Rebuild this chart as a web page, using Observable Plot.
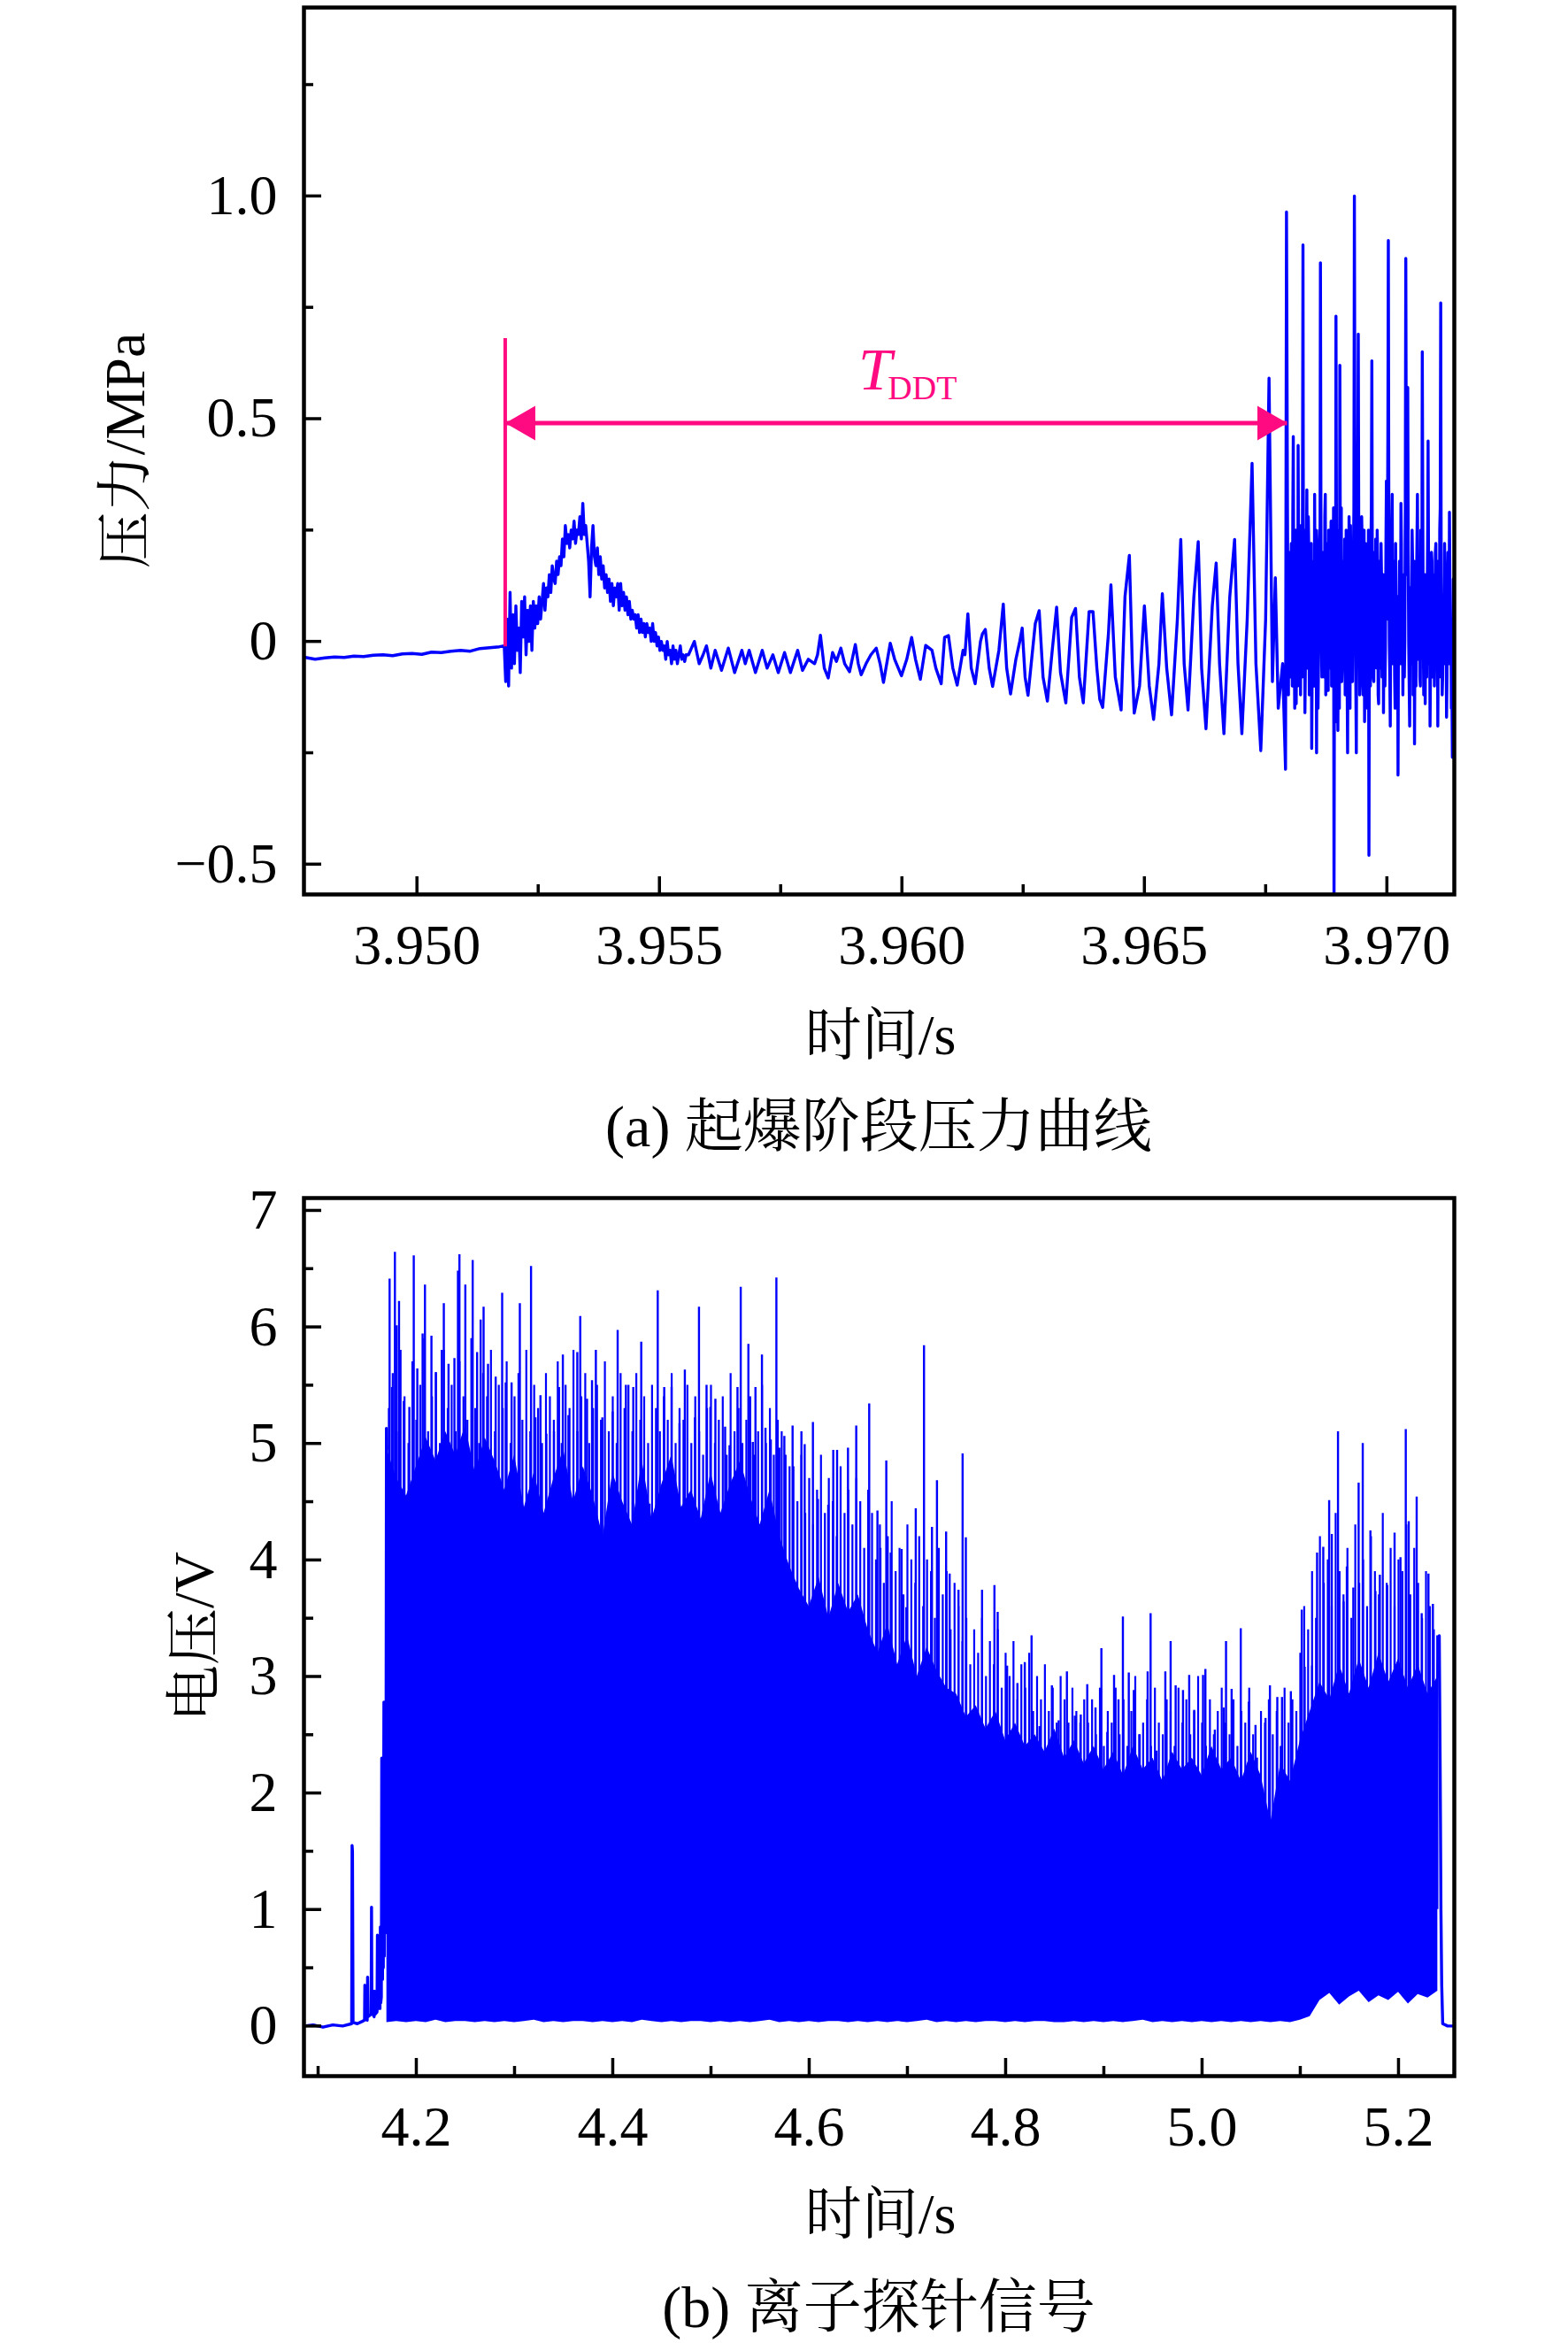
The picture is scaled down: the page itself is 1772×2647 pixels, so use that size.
<!DOCTYPE html>
<html><head><meta charset="utf-8">
<script src="https://cdn.jsdelivr.net/npm/d3@7"></script>
<script src="https://cdn.jsdelivr.net/npm/@observablehq/plot@0.6"></script>
<style>
html,body{margin:0;padding:0;background:#fff;}
#page{position:relative;width:1772px;height:2647px;overflow:hidden;background:#fff;color:#000;
  font-family:'Liberation Serif','Times New Roman','Noto Serif CJK SC','Noto Sans CJK SC',serif;}
.lbl{position:absolute;transform:translate(-50%,-50%);white-space:nowrap;font-size:64px;line-height:1;}
.rot{transform:translate(-50%,-50%) rotate(-90deg);}
#c1{position:absolute;left:0;top:0;}
#c2{position:absolute;left:0;top:1300px;}
</style></head><body><div id="page">
<div id="c1"></div><div id="c2"></div>
<div class="lbl rot" style="left:142px;top:509px">压力/MPa</div>
<div class="lbl" style="left:995px;top:1170px">时间/s</div>
<div class="lbl" style="left:993px;top:1273px;font-size:66px">(a) 起爆阶段压力曲线</div>
<div class="lbl rot" style="left:220px;top:1849px">电压/V</div>
<div class="lbl" style="left:995px;top:2502px">时间/s</div>
<div class="lbl" style="left:993px;top:2607px;font-size:66px">(b) 离子探针信号</div>
</div>
<script>
// ---------- (a) pressure data ----------
const flatT0 = 3.9477, flatDt = 0.0002;
const flatV = [-0.036,-0.040,-0.037,-0.035,-0.036,-0.033,-0.034,-0.031,-0.030,-0.032,-0.028,-0.027,-0.029,-0.024,-0.025,-0.022,-0.020,-0.022,-0.016,-0.014,-0.012];
const humpT0 = 3.95180, humpDt = 0.00003;
const humpV = [-0.01,-0.09,0.05,-0.10,0.11,-0.06,0.06,-0.05,0.08,-0.02,
 0.03,-0.07,0.09,0.01,0.10,-0.03,0.07,0.00,0.08,-0.02,
 0.09,0.03,0.08,0.04,0.10,0.05,0.09,0.13,0.07,0.12,
 0.10,0.15,0.11,0.17,0.14,0.13,0.18,0.15,0.19,0.17,
 0.23,0.19,0.26,0.22,0.24,0.21,0.25,0.23,0.27,0.22,
 0.25,0.24,0.28,0.23,0.31,0.24,0.26,0.22,0.18,0.10,
 0.21,0.26,0.19,0.17,0.21,0.15,0.19,0.14,0.17,0.12,
 0.15,0.11,0.14,0.09,0.13,0.08,0.12,0.10,0.13,0.07,
 0.13,0.08,0.11,0.07,0.10,0.06,0.09,0.05,0.07,0.05,
 0.06,0.03,0.06,0.02,0.05,0.02,0.04,0.01,0.04,0.02,
 0.03,0.00,0.04,0.00,0.02,-0.01,0.01,-0.02,0.00,-0.02,
 -0.01,-0.04,0.00,-0.03,-0.02,-0.05,-0.01,-0.04,-0.02,-0.05,
 -0.03,-0.01,-0.04,-0.03,-0.045,-0.03];
const oscT = [3.95560,3.95572,3.95582,3.95590,3.95597,3.95606,3.95615,3.95628,3.95642,3.95655,
 3.95670,3.95677,3.95685,3.95698,3.95712,3.95722,3.95734,3.95745,3.95758,3.95770,
 3.95785,3.95795,3.95807,3.95820,3.95826,3.95832,3.95840,3.95848,3.95857,3.95865,
 3.95874,3.95882,3.95892,3.95904,3.95910,3.95916,3.95926,3.95936,3.95947,3.95955,
 3.95962,3.95976,3.95985,3.95999,3.96010,3.96020,3.96028,3.96038,3.96049,3.96062,
 3.96070,3.96081,3.96088,3.96096,3.96105,3.96114,3.96126,3.96130,3.96136,3.96143,
 3.96151,3.96162,3.96166,3.96172,3.96180,3.96187,3.96200,3.96209,3.96216,3.96224,
 3.96235,3.96243,3.96248,3.96254,3.96260,3.96275,3.96283,3.96291,3.96300,3.96310,
 3.96319,3.96327,3.96338,3.96350,3.96358,3.96366,3.96374,3.96386,3.96394,3.96402,
 3.96408,3.96414,3.96426,3.96431,3.96440,3.96452,3.96460,3.96469,3.96475,3.96479,
 3.96490,3.96500,3.96510,3.96519,3.96530,3.96537,3.96546,3.96556,3.96568,3.96575,
 3.96582,3.96590,3.96602,3.96611,3.96618,3.96627,3.96640,3.96648,3.96655,3.96664,
 3.96676,3.96686,3.96693,3.96701,3.96712,3.96722,3.96730,3.96740,3.96750,3.96757,
 3.96764,3.96770,3.96776,3.96785,3.96791,3.96793];
const oscV = [-0.03,0.00,-0.05,-0.03,-0.01,-0.06,-0.02,-0.065,-0.015,-0.07,
 -0.02,-0.05,-0.02,-0.07,-0.02,-0.06,-0.03,-0.07,-0.025,-0.07,
 -0.02,-0.065,-0.04,-0.05,-0.03,0.014,-0.06,-0.082,-0.025,-0.045,
 -0.015,-0.05,-0.068,-0.007,-0.05,-0.075,-0.05,-0.03,-0.015,-0.05,
 -0.092,-0.004,-0.04,-0.077,-0.04,0.009,-0.04,-0.085,-0.009,-0.02,
 -0.06,-0.095,0.009,0.013,-0.06,-0.098,-0.02,-0.03,0.062,-0.06,
 -0.095,0.00,0.017,0.027,-0.06,-0.101,-0.02,0.084,-0.06,-0.118,
 -0.04,0.00,0.030,-0.08,-0.121,0.04,0.069,-0.08,-0.134,-0.02,
 0.077,-0.07,-0.138,0.054,0.074,-0.08,-0.138,0.067,0.067,-0.06,
 -0.13,-0.148,0.02,0.127,-0.08,-0.154,0.101,0.193,-0.05,-0.161,
 -0.10,0.08,-0.10,-0.175,-0.05,0.107,-0.06,-0.165,0.05,0.229,
 -0.05,-0.154,0.10,0.224,-0.06,-0.196,0.08,0.176,-0.05,-0.207,
 0.10,0.229,-0.05,-0.207,0.05,0.40,-0.05,-0.245,0.05,0.591,
 -0.09,0.143,-0.15,-0.05,-0.287,0.964];
const burstT0 = 3.96795, burstDt = 0.00002;
const burstV = [0.30,-0.12,0.12,-0.05,0.22,-0.10,0.46,-0.02,0.18,-0.14,
 0.10,0.44,-0.05,0.04,0.26,-0.08,0.89,0.10,-0.16,0.12,
 0.34,-0.06,0.20,-0.06,0.15,-0.24,0.02,0.18,0.33,-0.08,
 -0.25,0.10,-0.05,0.25,0.85,0.00,-0.04,0.20,-0.08,0.33,
 0.02,0.22,-0.11,0.12,-0.06,0.27,-0.05,0.08,-0.60,0.15,
 0.73,-0.05,-0.20,0.25,0.62,0.00,-0.09,0.12,-0.06,0.23,
 -0.10,0.15,-0.25,0.02,0.10,0.26,-0.08,-0.09,0.18,1.00,
 0.05,-0.25,0.05,0.69,0.10,-0.08,0.02,0.22,-0.12,0.25,
 0.00,-0.11,0.12,-0.05,-0.48,0.05,0.20,0.63,0.05,-0.09,
 0.08,0.23,-0.06,0.18,-0.14,0.05,-0.06,0.14,-0.04,-0.16,
 0.15,-0.02,0.36,0.20,0.90,0.00,-0.19,0.10,0.33,-0.05,
 0.15,-0.15,0.05,-0.10,-0.30,0.00,0.12,0.31,-0.04,-0.12,
 0.15,0.00,0.86,0.25,0.57,0.00,-0.19,0.02,0.10,0.18,
 -0.05,-0.23,0.05,0.12,0.33,-0.04,0.15,-0.10,0.20,0.65,
 0.02,-0.05,-0.14,0.15,0.08,0.45,-0.05,-0.19,0.05,0.18,
 -0.08,0.12,-0.02,0.22,-0.06,-0.19,0.15,0.25,0.76,0.02,
 -0.08,0.10,0.22,-0.05,-0.17,0.05,0.18,0.29,-0.02,-0.15,
 -0.26,0.14,-0.22,-0.25];
// half-step samples between the burstV samples
const burstMidV = [0.05,0.20,-0.08,0.15,0.02,0.28,0.10,-0.15,0.25,0.05,
 -0.10,0.20,0.15,-0.12,0.08,0.30,0.02,0.25,-0.05,0.18,
 0.05,0.28,-0.12,0.10,0.22,-0.05,0.15,-0.10,0.05,0.25,
 0.10,-0.15,0.22,0.05,0.30,-0.08,0.15,0.02,0.28,-0.12,
 0.18,-0.05,0.25,0.00,0.20,-0.10,0.15,0.30,0.05,-0.18,
 0.28,0.10,0.05,-0.15,0.20,0.30,-0.05,0.18,0.02,-0.12,
 0.25,-0.08,0.10,0.28,-0.15,0.05,0.22,0.10,0.30,0.45,
 -0.10,0.15,0.35,0.25,-0.12,0.20,0.28,-0.05,0.10,-0.18,
 0.22,0.05,-0.15,0.25,0.08,-0.10,0.30,0.15,-0.08,0.20,
 -0.05,0.10,0.25,-0.12,0.18,0.02,0.22,-0.08,0.15,0.05,
 -0.10,0.20,0.05,0.45,0.30,-0.08,0.15,0.25,-0.05,0.18,
 -0.08,0.22,-0.12,0.10,0.05,0.18,-0.05,0.22,0.10,0.05,
 -0.08,0.30,0.40,0.15,0.20,-0.10,0.12,-0.05,0.25,-0.12,
 0.18,0.05,-0.10,0.22,0.10,0.18,-0.08,0.25,0.05,0.30,
 -0.12,0.15,0.05,-0.08,0.22,0.15,0.10,-0.05,0.20,0.02,
 0.15,-0.10,0.20,0.05,0.18,0.02,-0.08,0.30,0.15,-0.12,
 0.10,-0.05,0.15,0.10,-0.08,0.20,-0.05,0.12,0.05,-0.10,
 -0.18,-0.05,-0.20,-0.24];
// annotation values
const tOnset = 3.95182, tDDTend = 3.96795, onsetTop = 0.68, onsetBottom = -0.012, arrowY = 0.49;
const labelT = "T", labelSub = "DDT";
// axes (a)
const xDomainA = [3.94767, 3.97139], yDomainA = [-0.568, 1.423];
const xMajorA = [3.950, 3.955, 3.960, 3.965, 3.970];
const xMinorA = [3.9525, 3.9575, 3.9625, 3.9675];
const yMajorA = [-0.5, 0, 0.5, 1.0];
const yMinorA = [-0.25, 0.25, 0.75, 1.25];

// ---------- (b) ion probe data ----------
const preT = [4.0856,4.095,4.105,4.115,4.125,4.1342,4.1346,4.1350,4.1356,4.140,
 4.145,4.1473,4.1476,4.1480,4.1500,4.1504,4.1508,4.1540,4.1544,4.1548,
 4.1570,4.1574,4.1578,4.1600,4.1604,4.1608,4.1630,4.1634,4.1638,4.1644,
 4.1648,4.1656,4.1660,4.1664,4.1670,4.1674,4.1680,4.1690,4.1696,4.1700];
const preV = [0.00,0.01,-0.01,0.01,0.00,0.02,1.55,1.50,0.03,0.02,
 0.04,0.05,0.35,0.06,0.05,0.42,0.08,0.10,1.02,0.12,
 0.08,0.30,0.10,0.12,0.78,0.15,0.15,0.85,0.20,0.25,
 2.30,0.40,2.24,0.50,2.78,0.60,1.50,0.80,5.13,4.95];
const coreT0 = 4.17, coreDt = 0.01;
const coreHi = [4.95,4.70,4.55,4.80,5.05,4.85,5.10,4.90,5.15,4.75,
 5.05,4.85,4.60,4.90,4.45,4.75,4.40,4.70,4.95,4.50,
 4.80,4.55,4.20,4.75,4.50,4.30,4.85,4.35,4.65,4.90,
 4.45,4.60,4.35,4.75,4.40,4.65,4.85,4.55,4.30,4.60,
 4.20,3.95,3.75,3.60,3.85,3.50,3.80,3.55,3.70,3.40,
 3.20,3.45,3.10,3.35,3.00,3.25,3.05,2.90,2.85,2.65,
 2.75,2.55,2.70,2.45,2.60,2.40,2.50,2.35,2.55,2.30,
 2.45,2.25,2.40,2.20,2.35,2.15,2.40,2.20,2.30,2.10,
 2.35,2.20,2.30,2.15,2.40,2.20,2.30,2.10,2.35,2.15,
 1.75,2.25,2.10,2.45,2.70,2.95,2.80,3.10,2.85,3.15,
 2.90,3.20,2.95,3.15,2.90,3.10,2.85,3.00];
const coreLo = [0.03,0.04,0.03,0.04,0.03,0.05,0.03,0.04,0.04,0.03,
 0.04,0.03,0.04,0.03,0.04,0.05,0.03,0.04,0.03,0.04,
 0.04,0.03,0.04,0.03,0.04,0.03,0.05,0.04,0.03,0.04,
 0.03,0.04,0.04,0.03,0.04,0.03,0.04,0.03,0.04,0.05,
 0.03,0.04,0.03,0.04,0.03,0.04,0.04,0.03,0.04,0.03,
 0.04,0.03,0.04,0.03,0.04,0.05,0.03,0.04,0.03,0.04,
 0.03,0.04,0.04,0.03,0.04,0.03,0.04,0.04,0.03,0.03,
 0.04,0.03,0.04,0.03,0.04,0.03,0.04,0.05,0.03,0.04,
 0.03,0.04,0.03,0.04,0.03,0.04,0.03,0.04,0.03,0.04,
 0.03,0.04,0.03,0.05,0.08,0.22,0.28,0.18,0.25,0.30,
 0.20,0.26,0.22,0.29,0.19,0.27,0.24,0.30];
// tall individual spikes
const spikeT = [4.1728,4.1752,4.1782,4.1800,4.1824,4.1872,4.1929,4.1974,4.2010,4.2064,
 4.2088,4.2154,4.2199,4.2259,4.2280,4.2328,4.2388,4.2424,4.2439,4.2499,
 4.2574,4.2619,4.2655,4.2685,4.2730,4.2808,4.2874,4.2910,4.2970,4.3054,
 4.3168,4.3213,4.3264,4.3324,4.3402,4.3453,4.3492,4.3549,4.3639,4.3669,
 4.3738,4.3789,4.3828,4.3894,4.3999,4.4050,4.4134,4.4209,4.4290,4.4374,
 4.4458,4.4524,4.4599,4.4680,4.4734,4.4837,4.4878,4.4955,4.4994,4.5045,
 4.5144,4.5189,4.5270,4.5303,4.5381,4.5426,4.5453,4.5519,4.5555,4.5609,
 4.5666,4.5696,4.5747,4.5831,4.5921,4.5954,4.6038,4.6089,4.6194,4.6245,
 4.6284,4.6395,4.6479,4.6611,4.6695,4.6725,4.6785,4.6830,4.6941,4.6989,
 4.7085,4.7169,4.7250,4.7301,4.7394,4.7430,4.7520,4.7562,4.7595,4.7760,
 4.7886,4.7919,4.8015,4.8120,4.8195,4.8264,4.8345,4.8471,4.8540,4.8624,
 4.8705,4.8765,4.8831,4.8915,4.8975,4.9035,4.9104,4.9149,4.9194,4.9254,
 4.9305,4.9365,4.9446,4.9476,4.9536,4.9626,4.9680,4.9731,4.9806,4.9869,
 4.9920,5.0010,5.0034,5.0130,5.0220,5.0244,5.0301,5.0394,5.0475,5.0544,
 5.0646,5.0691,5.0766,5.0814,5.0904,5.1015,5.1045,5.1120,5.1171,5.1234,
 5.1294,5.1321,5.1384,5.1441,5.1474,5.1540,5.1594,5.1636,5.1714,5.1765,
 5.1810,5.1885,5.1960,5.2020,5.2074,5.2104,5.2185,5.2236,5.2305,5.2350,
 5.2395];
const spikeV = [6.41,5.48,6.64,6.01,6.22,5.36,5.31,6.61,5.64,5.94,
 6.36,5.92,5.61,5.80,6.20,5.68,5.73,6.48,6.62,6.36,
 6.57,5.78,6.06,6.17,5.68,5.57,6.29,5.52,5.52,6.20,
 6.52,5.22,5.41,5.08,5.10,5.48,5.76,5.24,5.78,6.09,
 5.38,5.54,5.80,5.22,5.27,5.97,5.50,5.48,5.87,4.48,
 6.31,5.48,5.48,5.17,5.63,5.22,6.17,5.50,5.31,5.38,
 5.14,4.98,5.48,6.34,5.85,5.01,5.48,5.76,5.13,5.03,
 6.42,4.96,5.06,5.15,5.10,4.99,5.18,4.52,4.47,4.94,
 4.94,4.96,5.15,5.34,4.42,4.10,4.85,4.06,4.09,3.59,
 4.44,5.84,4.28,4.68,4.24,3.88,3.74,4.91,4.19,3.74,
 3.78,3.55,3.09,2.94,3.12,3.35,2.57,2.92,2.62,3.04,
 2.66,2.67,2.93,2.73,3.24,2.52,3.01,2.80,3.51,3.03,
 2.88,2.50,3.04,3.54,2.36,3.04,3.30,2.92,2.88,3.01,
 2.71,3.01,3.06,2.54,2.73,3.30,2.89,3.41,2.78,2.58,
 2.64,2.92,2.82,2.82,2.87,3.57,3.08,3.09,4.06,4.11,
 4.51,4.22,5.10,3.64,3.94,3.76,4.66,5.00,4.25,3.73,
 3.87,3.78,4.23,4.02,5.12,4.33,4.54,3.54,3.88,3.62,
 3.35];
// denser mid-height spikes, sampled every 4 ms from 4.172 s
const midT0 = 4.172, midDt = 0.004;
const midV = [5.3,5.6,5.1,5.8,5.4,5.0,5.7,5.2,5.5,5.9,
 5.1,5.4,5.6,5.0,5.8,5.3,5.5,5.1,5.7,5.4,
 5.2,5.9,5.3,5.0,5.6,5.4,5.8,5.1,5.5,5.3,
 5.7,5.0,5.4,5.6,5.2,5.8,5.1,5.5,5.3,5.0,
 5.6,5.4,5.2,5.7,5.0,5.5,5.3,5.8,5.1,5.4,
 5.6,5.0,5.3,5.5,5.2,5.7,5.1,5.4,5.0,5.6,
 5.3,5.5,5.1,5.6,5.2,5.4,5.0,5.5,5.3,5.1,
 5.4,5.2,5.6,5.0,5.3,5.2,5.5,5.0,5.4,5.1,
 4.9,5.3,5.5,5.0,5.2,5.4,4.9,5.6,5.1,5.3,
 5.0,5.2,5.4,4.9,5.1,5.5,5.0,5.3,4.9,5.2,
 5.1,4.9,4.8,
 4.8,4.5,4.9,4.4,4.7,4.3,4.6,4.9,4.4,4.7,4.5,4.2,4.8,4.4,4.6,4.3,4.7,4.5,4.1,4.6,
 4.4,4.0,4.3,3.8,4.2,4.5,3.9,4.1,3.7,4.3,4.0,3.8,4.2,3.6,4.0,3.9,3.5,4.1,3.7,3.9,3.4,3.8,
 3.6,3.3,3.5,3.1,3.4,3.2,3.5,3.0,3.3,3.1,3.4,2.9,3.2,3.0,3.3,2.8,3.1,2.9,3.2,2.7,
 3.0,2.8,3.1,2.7,2.9,2.6,3.0,2.8,2.6,2.9,2.7,2.6,2.8,
 2.6,2.8,2.5,2.9,2.4,2.7,2.6,2.9,2.5,2.8,2.4,2.7,3.0,2.5,2.6,2.8,2.4,2.9,2.6,2.5,
 2.8,2.7,2.4,2.9,2.6,2.8,2.5,2.7,3.0,2.6,2.4,2.8,2.5,2.7,2.9,2.6,2.5,2.8,2.4,2.7,
 2.6,2.9,2.5,2.3,2.7,2.6,2.8,2.5,2.7,2.4,2.9,2.6,2.8,2.7,
 3.2,3.6,3.4,3.9,3.5,4.2,3.8,4.0,3.6,4.4,3.9,3.7,4.1,3.5,4.3,3.8,4.0,3.6,4.2,3.9,
 3.7,4.4,3.8,4.1,3.6,4.0,3.9,4.3,3.7,4.1,3.8,3.5,3.9,3.6,3.4];
const tailT = [5.2400,5.2415,5.2425,5.2432,5.2440,5.2450,5.2500,5.2568];
const tailV = [3.00,3.35,2.10,1.00,0.35,0.02,0.00,0.00];
// axes (b)
const xDomainB = [4.0856, 5.2568], yDomainB = [-0.43, 7.106];
const xMajorB = [4.2, 4.4, 4.6, 4.8, 5.0, 5.2];
const xMinorB = [4.1, 4.3, 4.5, 4.7, 4.9, 5.1];
const yMajorB = [0, 1, 2, 3, 4, 5, 6, 7];
const yMinorB = [0.5, 1.5, 2.5, 3.5, 4.5, 5.5, 6.5];

// ---------- build ----------
const BLUE = "#0000ff", PINK = "#ff0a80";
const FONT = "'Liberation Serif','Times New Roman','Noto Serif CJK SC','Noto Sans CJK SC',serif";
const W = 1772, ML = 343, MR = 129;
const FW = W - ML - MR;

const pressure = [];
flatV.forEach((v, i) => pressure.push({t: flatT0 + i * flatDt, v}));
humpV.forEach((v, i) => pressure.push({t: humpT0 + i * humpDt, v}));
oscT.forEach((t, i) => pressure.push({t, v: oscV[i]}));
burstV.forEach((v, i) => {
  pressure.push({t: burstT0 + i * burstDt, v});
  pressure.push({t: burstT0 + (i + 0.5) * burstDt, v: burstMidV[i]});
});

const fmtA = d => d === 0 ? "0" : (d < 0 ? "\u2212" : "") + Math.abs(d).toFixed(1);

function frameTicks(xMaj, xMin, yMaj, yMin, FH) {
  return [
    Plot.tickX(xMaj, {x: d => d, insetTop: FH - 20, stroke: "black", strokeWidth: 3.5}),
    Plot.tickX(xMin, {x: d => d, insetTop: FH - 11, stroke: "black", strokeWidth: 3.5}),
    Plot.tickY(yMaj, {y: d => d, insetRight: FW - 20, stroke: "black", strokeWidth: 3.5}),
    Plot.tickY(yMin, {y: d => d, insetRight: FW - 11, stroke: "black", strokeWidth: 3.5}),
    Plot.frame({stroke: "black", strokeWidth: 4.5})
  ];
}

const H1 = 1110, MT1 = 8, MB1 = 100, FH1 = H1 - MT1 - MB1;
const p1 = Plot.plot({
  width: W, height: H1, marginTop: MT1, marginBottom: MB1, marginLeft: ML, marginRight: MR,
  style: {fontFamily: FONT, fontSize: "64px", background: "white", color: "black", overflow: "visible"},
  x: {domain: xDomainA, ticks: xMajorA, tickSize: 0, tickPadding: 33, tickFormat: d => d.toFixed(3), label: null},
  y: {domain: yDomainA, ticks: yMajorA, tickSize: 0, tickPadding: 30, tickFormat: fmtA, label: null},
  marks: [
    Plot.line(pressure, {x: "t", y: "v", stroke: BLUE, strokeWidth: 3.4, clip: true}),
    Plot.ruleX([tOnset], {x: d => d, y1: onsetBottom, y2: onsetTop, stroke: PINK, strokeWidth: 4}),
    Plot.ruleY([arrowY], {y: d => d, x1: tOnset, x2: tDDTend, stroke: PINK, strokeWidth: 5}),
    Plot.dot([tOnset], {x: d => d, y: () => arrowY, symbol: "triangle", r: 14.5, rotate: -90, dx: 22.7, fill: PINK, stroke: "none"}),
    Plot.dot([tDDTend], {x: d => d, y: () => arrowY, symbol: "triangle", r: 14.5, rotate: 90, dx: -22.7, fill: PINK, stroke: "none"}),
    Plot.text([labelT], {x: () => 3.95910, y: () => 0.566, text: d => d, textAnchor: "start", fontStyle: "italic", fontSize: 68, fill: PINK, dy: -22}),
    Plot.text([labelSub], {x: () => 3.95971, y: () => 0.545, text: d => d, textAnchor: "start", fontSize: 38, fill: PINK, dy: -12}),
    ...frameTicks(xMajorA, xMinorA, yMajorA, yMinorA, FH1)
  ]
});
document.getElementById("c1").appendChild(p1);

const core = coreHi.map((hi, i) => ({t: coreT0 + i * coreDt, hi, lo: coreLo[i]}));
const pre = preT.map((t, i) => ({t, v: preV[i]}));
const tail = tailT.map((t, i) => ({t, v: tailV[i]}));
const spikes = spikeT.map((t, i) => ({t, v: spikeV[i]}));
const mids = midV.map((v, i) => ({t: midT0 + i * midDt, v}));

const H2 = 1145, MT2 = 53, MB2 = 100, FH2 = H2 - MT2 - MB2;
const p2 = Plot.plot({
  width: W, height: H2, marginTop: MT2, marginBottom: MB2, marginLeft: ML, marginRight: MR,
  style: {fontFamily: FONT, fontSize: "64px", background: "white", color: "black", overflow: "visible"},
  x: {domain: xDomainB, ticks: xMajorB, tickSize: 0, tickPadding: 33, tickFormat: d => d.toFixed(1), label: null},
  y: {domain: yDomainB, ticks: yMajorB, tickSize: 0, tickPadding: 30, tickFormat: d => String(d), label: null},
  marks: [
    Plot.areaY(core, {x: "t", y1: "lo", y2: "hi", fill: BLUE, curve: "linear"}),
    Plot.ruleX(mids, {x: "t", y1: () => 1, y2: "v", stroke: BLUE, strokeWidth: 2.2}),
    Plot.ruleX(spikes, {x: "t", y1: () => 1, y2: "v", stroke: BLUE, strokeWidth: 2.4}),
    Plot.line(pre, {x: "t", y: "v", stroke: BLUE, strokeWidth: 3.4}),
    Plot.line(tail, {x: "t", y: "v", stroke: BLUE, strokeWidth: 3.4}),
    ...frameTicks(xMajorB, xMinorB, yMajorB, yMinorB, FH2)
  ]
});
document.getElementById("c2").appendChild(p2);
</script></body></html>
